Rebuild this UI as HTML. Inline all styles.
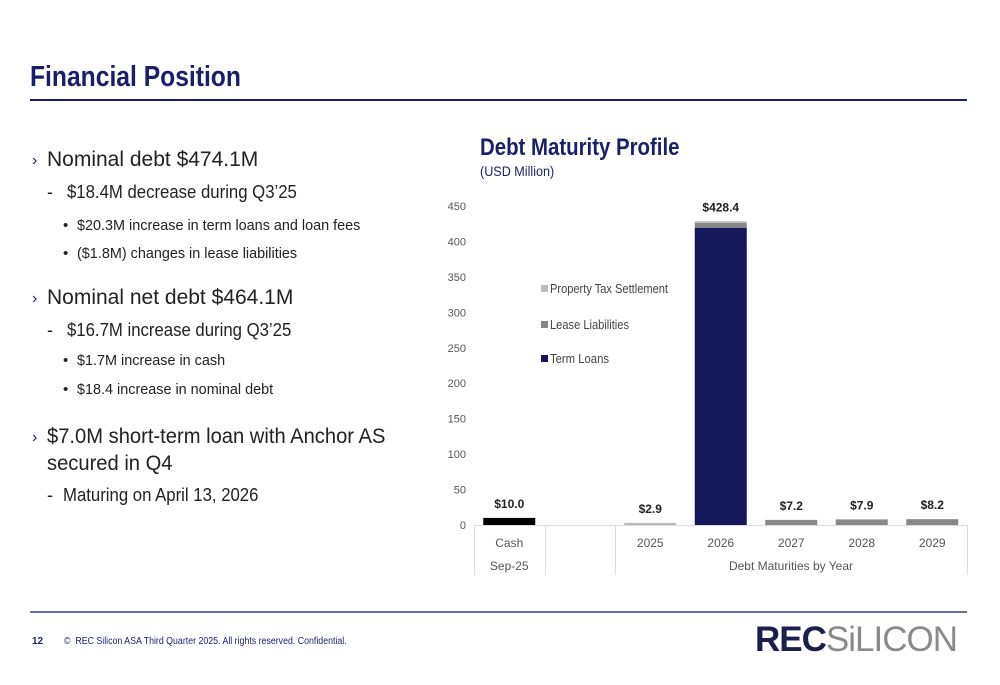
<!DOCTYPE html>
<html><head><meta charset="utf-8"><style>
body{margin:0;width:1000px;height:685px;background:#fff;font-family:"Liberation Sans",sans-serif;position:relative;overflow:hidden}
.abs{position:absolute;white-space:nowrap}
.n{display:inline-block;transform-origin:left top}
.b1{font-size:21px;color:#222}
.b2{font-size:18px;color:#222}
.b3{font-size:15px;color:#222}
.car{color:#1a1f6b;font-size:16px}
</style></head><body>
<div class="abs" style="left:30px;top:61px;font-size:29px;font-weight:bold;color:#1a1f6b"><span class="n" style="transform:scaleX(0.85)">Financial Position</span></div>
<div class="abs" style="left:30px;top:99px;width:937px;height:2px;background:#1a1f6b"></div>

<div>
<div class="abs car" style="left:32px;top:152px">›</div>
<div class="abs b1" style="left:47px;top:148px">Nominal debt $474.1M</div>
<div class="abs b2" style="left:47px;top:182px">-</div>
<div class="abs b2" style="left:67px;top:182px"><span class="n" style="transform:scaleX(0.93)">$18.4M decrease during Q3’25</span></div>
<div class="abs b3" style="left:63px;top:217px">•</div>
<div class="abs b3" style="left:77px;top:217px"><span class="n" style="transform:scaleX(0.96)">$20.3M increase in term loans and loan fees</span></div>
<div class="abs b3" style="left:63px;top:245px">•</div>
<div class="abs b3" style="left:77px;top:245px"><span class="n" style="transform:scaleX(0.96)">($1.8M) changes in lease liabilities</span></div>

<div class="abs car" style="left:32px;top:290px">›</div>
<div class="abs b1" style="left:47px;top:286px">Nominal net debt $464.1M</div>
<div class="abs b2" style="left:47px;top:320px">-</div>
<div class="abs b2" style="left:67px;top:320px"><span class="n" style="transform:scaleX(0.93)">$16.7M increase during Q3’25</span></div>
<div class="abs b3" style="left:63px;top:352px">•</div>
<div class="abs b3" style="left:77px;top:352px"><span class="n" style="transform:scaleX(0.96)">$1.7M increase in cash</span></div>
<div class="abs b3" style="left:63px;top:381px">•</div>
<div class="abs b3" style="left:77px;top:381px"><span class="n" style="transform:scaleX(0.96)">$18.4 increase in nominal debt</span></div>

<div class="abs car" style="left:32px;top:429px">›</div>
<div class="abs b1" style="left:47px;top:425px"><span class="n" style="transform:scaleX(0.96)">$7.0M short-term loan with Anchor AS</span></div>
<div class="abs b1" style="left:47px;top:452px"><span class="n" style="transform:scaleX(0.96)">secured in Q4</span></div>
<div class="abs b2" style="left:47px;top:485px">-</div>
<div class="abs b2" style="left:63px;top:485px"><span class="n" style="transform:scaleX(0.93)">Maturing on April 13, 2026</span></div>
</div>

<div class="abs" style="left:480px;top:134px;font-size:24px;font-weight:bold;color:#1a1f6b"><span class="n" style="transform:scaleX(0.85)">Debt Maturity Profile</span></div>
<div class="abs" style="left:480px;top:163px;font-size:14px;color:#1a1f6b"><span class="n" style="transform:scaleX(0.9)">(USD Million)</span></div>

<svg class="abs" style="left:0;top:0" width="1000" height="685" id="chart"></svg>

<div class="abs" style="left:30px;top:611px;width:937px;height:2px;background:#6b6f9a"></div>
<div class="abs" style="left:32px;top:636px;font-size:10px;font-weight:bold;color:#1a1f6b">12</div>
<div class="abs" style="left:64px;top:636px;font-size:10px;color:#1a1f6b"><span class="n" style="transform:scaleX(0.88)">©&nbsp; REC Silicon ASA Third Quarter 2025. All rights reserved. Confidential.</span></div>
<div class="abs" style="left:755px;top:620px;font-size:35px;letter-spacing:-1px"><span style="color:#1a1f4b;font-weight:bold">REC</span><span style="color:#8a8a8a">SiLICON</span></div>

<script>
const categories=["Cash","","2025","2026","2027","2028","2029"];
const cash=[10.0,0,0,0,0,0,0];
const termLoans=[0,0,0,419.4,0,0,0];
const lease=[0,0,0,7.0,7.2,7.9,8.2];
const propTax=[0,0,2.9,2.0,0,0,0];
const totals=["$10.0","","$2.9","$428.4","$7.2","$7.9","$8.2"];
const yTicks=[0,50,100,150,200,250,300,350,400,450];
const svg=document.getElementById('chart');
const NS='http://www.w3.org/2000/svg';
const y0=525,pxPer=(525-206)/450,x0=474,slot=70.5,bw=52;
const y=v=>y0-v*pxPer;
const xc=i=>x0+slot*(i+0.5);
function mk(tag,a,txt){const e=document.createElementNS(NS,tag);for(const k in a)e.setAttribute(k,a[k]);if(txt!==undefined)e.textContent=txt;svg.appendChild(e);return e;}
yTicks.forEach(t=>{const e=mk('text',{x:466,y:y(t)+4,'text-anchor':'end','font-size':11,fill:'#555','font-family':'Liberation Sans'},t);

});
const series=[[cash,'#000'],[termLoans,'#14185a'],[lease,'#888'],[propTax,'#bbb']];
categories.forEach((c,i)=>{let acc=0;series.forEach(([arr,col])=>{const v=arr[i];if(v>0){const r=mk('rect',{x:xc(i)-bw/2,y:y(acc+v),width:bw,height:y(acc)-y(acc+v),fill:col});

acc+=v;}});
if(totals[i]){const tl=mk('text',{x:xc(i),y:y(acc)-10,'text-anchor':'middle','font-size':12,'font-weight':'bold',fill:'#222','font-family':'Liberation Sans'},totals[i]);

}
if(c){const cl=mk('text',{x:xc(i),y:547,'text-anchor':'middle','font-size':12,fill:'#555','font-family':'Liberation Sans'},c);

}});
const gl='#ddd';
mk('line',{x1:474,y1:525.5,x2:967,y2:525.5,stroke:gl});
[474,545,615,967].forEach(x=>mk('line',{x1:x+0.5,y1:525,x2:x+0.5,y2:575,stroke:gl}));
mk('text',{x:xc(0),y:570,'text-anchor':'middle','font-size':12,fill:'#555','font-family':'Liberation Sans'},'Sep-25');
mk('text',{x:791,y:570,'text-anchor':'middle','font-size':12,fill:'#555','font-family':'Liberation Sans'},'Debt Maturities by Year');
[['Property Tax Settlement','#bbb',289,118],['Lease Liabilities','#888',325,79],['Term Loans','#14185a',359,59]].forEach(([n,c,yy,w])=>{
const g=mk('rect',{x:541,y:yy-4,width:7,height:7,fill:c});


const t=mk('text',{x:550,y:yy+4,'font-size':12.5,fill:'#444','font-family':'Liberation Sans',textLength:w,lengthAdjust:'spacingAndGlyphs'},n);

});
</script>
</body></html>
